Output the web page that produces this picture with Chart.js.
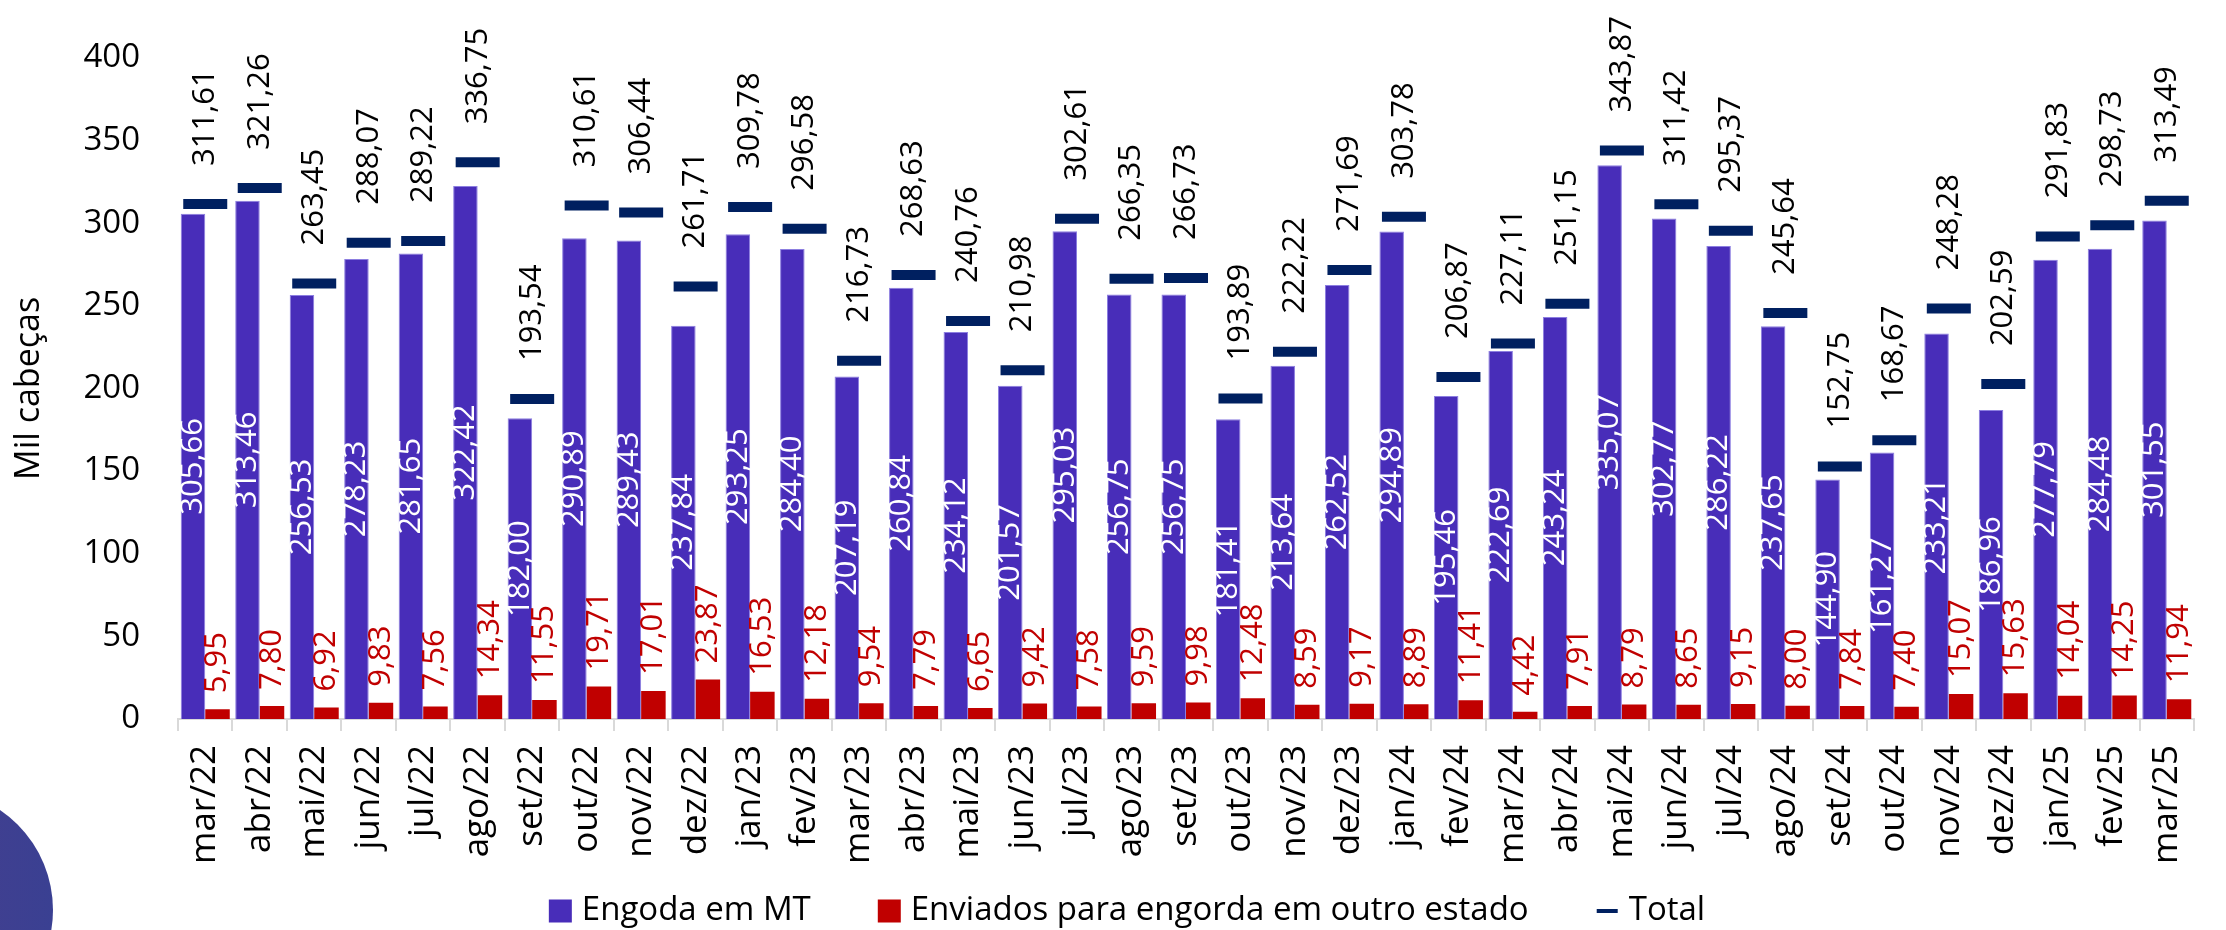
<!DOCTYPE html>
<html lang="pt-BR">
<head>
    <meta charset="UTF-8">
    <title>Engorda em MT</title>
    <script src="https://cdn.jsdelivr.net/npm/chart.js"></script>
    <style>
        body {
            margin: 0;
            background: #ffffff;
            overflow: hidden;
        }
        .quadro {
            position: relative;
            width: 2226px;
            height: 930px;
            overflow: hidden;
        }
        .circulo {
            position: absolute;
            left: -189px;
            top: 789px;
            width: 242px;
            height: 242px;
            border-radius: 50%;
            background: linear-gradient(to right, #4f3e8c, #3a4092);
        }
        canvas {
            position: relative;
        }
    </style>
</head>
<body>
    <div class="quadro">
        <div class="circulo"></div>
        <canvas id="grafico"></canvas>
    </div>

    <script>
        // Meses
        const meses = ['mar/22', 'abr/22', 'mai/22', 'jun/22', 'jul/22', 'ago/22', 'set/22', 'out/22', 'nov/22', 'dez/22',
            'jan/23', 'fev/23', 'mar/23', 'abr/23', 'mai/23', 'jun/23', 'jul/23', 'ago/23', 'set/23', 'out/23', 'nov/23', 'dez/23',
            'jan/24', 'fev/24', 'mar/24', 'abr/24', 'mai/24', 'jun/24', 'jul/24', 'ago/24', 'set/24', 'out/24', 'nov/24', 'dez/24',
            'jan/25', 'fev/25', 'mar/25'];

        // Mil cabeças
        const engordaMT = [305.66, 313.46, 256.53, 278.23, 281.65, 322.42, 182.00, 290.89, 289.43, 237.84,
            293.25, 284.40, 207.19, 260.84, 234.12, 201.57, 295.03, 256.75, 256.75, 181.41, 213.64, 262.52,
            294.89, 195.46, 222.69, 243.24, 335.07, 302.77, 286.22, 237.65, 144.90, 161.27, 233.21, 186.96,
            277.79, 284.48, 301.55];

        const enviados = [5.95, 7.80, 6.92, 9.83, 7.56, 14.34, 11.55, 19.71, 17.01, 23.87,
            16.53, 12.18, 9.54, 7.79, 6.65, 9.42, 7.58, 9.59, 9.98, 12.48, 8.59, 9.17,
            8.89, 11.41, 4.42, 7.91, 8.79, 8.65, 9.15, 8.00, 7.84, 7.40, 15.07, 15.63,
            14.04, 14.25, 11.94];

        const total = [311.61, 321.26, 263.45, 288.07, 289.22, 336.75, 193.54, 310.61, 306.44, 261.71,
            309.78, 296.58, 216.73, 268.63, 240.76, 210.98, 302.61, 266.35, 266.73, 193.89, 222.22, 271.69,
            303.78, 206.87, 227.11, 251.15, 343.87, 311.42, 295.37, 245.64, 152.75, 168.67, 248.28, 202.59,
            291.83, 298.73, 313.49];

        const ticksY = [0, 50, 100, 150, 200, 250, 300, 350, 400];

        const fonte = '"Open Sans", "Noto Sans", sans-serif';
        Chart.defaults.font.family = fonte;
        Chart.defaults.color = '#000000';

        const virgula = v => v.toFixed(2).replace('.', ',');

        // Rótulos de dados (sem plugin externo)
        const rotulos = {
            id: 'rotulos',
            afterDatasetsDraw(chart) {
                const ctx = chart.ctx;
                ctx.save();
                ctx.font = '31px ' + fonte;
                ctx.textBaseline = 'middle';
                chart.data.datasets.forEach((ds, i) => {
                    const meta = chart.getDatasetMeta(i);
                    meta.data.forEach((el, j) => {
                        const txt = virgula(ds.data[j]);
                        ctx.save();
                        if (i === 0) {
                            ctx.translate(el.x, (el.y + el.base) / 2);
                            ctx.textAlign = 'center';
                            ctx.fillStyle = '#ffffff';
                        } else if (i === 1) {
                            ctx.translate(el.x, el.y - 16);
                            ctx.textAlign = 'left';
                            ctx.fillStyle = '#c00000';
                        } else {
                            ctx.translate(el.x, el.y - 38);
                            ctx.textAlign = 'left';
                            ctx.fillStyle = '#000000';
                        }
                        ctx.rotate(-Math.PI / 2);
                        ctx.fillText(txt, 0, 0);
                        ctx.restore();
                    });
                });
                ctx.restore();
            }
        };

        // Legenda desenhada no rodapé do canvas
        const legenda = {
            id: 'legenda',
            afterDraw(chart) {
                const ctx = chart.ctx;
                const y = chart.height - 19;
                const caixa = 23, respiro = 10, vao = 67;
                ctx.save();
                ctx.font = '33px ' + fonte;
                ctx.textBaseline = 'middle';
                ctx.textAlign = 'left';
                const itens = chart.data.datasets.map(ds => ({
                    texto: ds.label,
                    cor: ds.backgroundColor,
                    linha: ds.type === 'line'
                }));
                const larguras = itens.map(it => caixa + respiro + ctx.measureText(it.texto).width);
                const soma = larguras.reduce((a, b) => a + b, 0) + vao * (itens.length - 1);
                let x = chart.width / 2 + 14 - soma / 2;
                itens.forEach((it, i) => {
                    ctx.fillStyle = it.cor;
                    if (it.linha) {
                        ctx.fillRect(x + 1, y - 2, 21, 4);
                    } else {
                        ctx.fillRect(x, y - caixa / 2, caixa, caixa);
                    }
                    ctx.fillStyle = '#000000';
                    ctx.fillText(it.texto, x + caixa + respiro, y);
                    x += larguras[i] + vao;
                });
                ctx.restore();
            }
        };

        const ctx = document.getElementById('grafico').getContext('2d');

        new Chart(ctx, {
            type: 'bar',
            data: {
                labels: meses,
                datasets: [
                    {
                        label: 'Engoda em MT',
                        data: engordaMT,
                        backgroundColor: '#482db9',
                        borderColor: '#8c7ee0',
                        borderWidth: 1,
                        categoryPercentage: 0.9,
                        barPercentage: 1.0,
                        order: 1
                    },
                    {
                        label: 'Enviados para engorda em outro estado',
                        data: enviados,
                        backgroundColor: '#c00000',
                        categoryPercentage: 0.9,
                        barPercentage: 1.0,
                        order: 1
                    },
                    {
                        type: 'line',
                        label: 'Total',
                        data: total,
                        showLine: false,
                        backgroundColor: '#002060',
                        borderColor: '#002060',
                        pointStyle: 'line',
                        pointRadius: 22,
                        pointHoverRadius: 22,
                        pointBorderWidth: 10,
                        pointBorderColor: '#002060',
                        order: 0
                    }
                ]
            },
            options: {
                responsive: true,
                maintainAspectRatio: false,
                animation: false,
                layout: {
                    padding: { top: 41, right: 3, bottom: 61, left: 0 }
                },
                plugins: {
                    tooltip: { enabled: false },
                    legend: { display: false }
                },
                scales: {
                    x: {
                        grid: {
                            display: true,
                            drawOnChartArea: false,
                            drawTicks: true,
                            tickLength: 12,
                            color: '#d9d9d9',
                            lineWidth: 2
                        },
                        border: { display: true, color: '#d9d9d9', width: 2 },
                        ticks: {
                            autoSkip: false,
                            minRotation: 90,
                            maxRotation: 90,
                            padding: 14,
                            font: { size: 35 },
                            color: '#000000'
                        },
                        afterFit: scale => { scale.height = 150; }
                    },
                    y: {
                        min: 0,
                        max: 400,
                        grid: { display: false, drawTicks: false },
                        border: { display: false },
                        afterBuildTicks: scale => {
                            scale.ticks = ticksY.map(v => ({ value: v }));
                        },
                        ticks: {
                            padding: 38,
                            font: { size: 33 },
                            color: '#000000'
                        },
                        title: {
                            display: true,
                            text: 'Mil cabeças',
                            font: { size: 34 },
                            color: '#000000',
                            padding: { top: 9, bottom: 0 }
                        },
                        afterFit: scale => { scale.width = 178; }
                    }
                }
            },
            plugins: [rotulos, legenda]
        });
    </script>
</body>
</html>
